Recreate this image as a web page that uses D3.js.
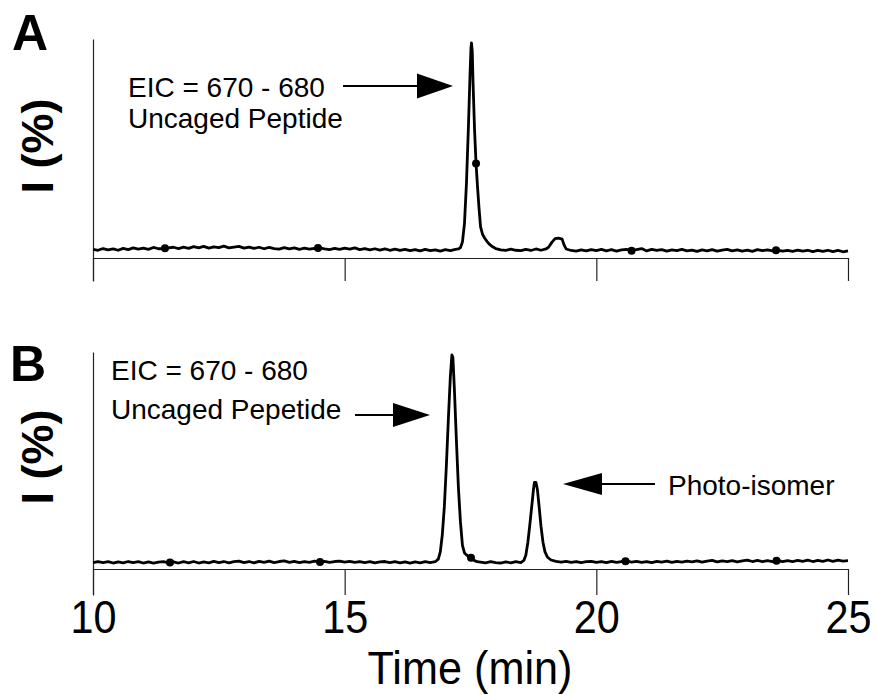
<!DOCTYPE html>
<html>
<head>
<meta charset="utf-8">
<script src="https://cdn.jsdelivr.net/npm/d3@7"></script>
<style>
  html, body { margin: 0; padding: 0; background: #fff; }
  svg { display: block; font-family: "Liberation Sans", Arial, sans-serif; }
</style>
</head>
<body>
<svg id="chart" width="877" height="695"></svg>
<script>
// ---------------- DATA ----------------
const xTicks = [10, 15, 20, 25];
const xLabel = "Time (min)";
const yLabel = "I (%)";
const panelLabels = ["A", "B"];

// Panel A: EIC 670-680, uncaged peptide
const timesA = [
  10.0,10.1,10.2,10.3,10.4,10.5,10.6,10.7,10.8,10.9,
  11.0,11.1,11.2,11.3,11.4,11.5,11.6,11.7,11.8,11.9,
  12.0,12.1,12.2,12.3,12.4,12.5,12.6,12.7,12.8,12.9,
  13.0,13.1,13.2,13.3,13.4,13.5,13.6,13.7,13.8,13.9,
  14.0,14.1,14.2,14.3,14.4,14.5,14.6,14.7,14.8,14.9,
  15.0,15.1,15.2,15.3,15.4,15.5,15.6,15.7,15.8,15.9,
  16.0,16.1,16.2,16.3,16.4,16.5,16.6,16.7,16.8,16.9,
  17.0,17.1,17.2,17.26,17.30,17.34,17.38,17.42,17.46,17.49,
  17.51,17.52,17.535,17.55,17.58,17.61,17.64,17.67,17.70,17.74,
  17.78,17.83,17.88,17.94,18.0,18.1,18.2,18.3,18.4,18.5,
  18.6,18.7,18.8,18.9,19.0,19.05,19.12,19.18,19.25,19.32,
  19.36,19.40,19.5,19.6,19.7,19.8,19.9,20.0,20.1,20.2,
  20.3,20.4,20.5,20.6,20.7,20.8,20.9,21.0,21.1,21.2,
  21.3,21.4,21.5,21.6,21.7,21.8,21.9,22.0,22.1,22.2,
  22.3,22.4,22.5,22.6,22.7,22.8,22.9,23.0,23.1,23.2,
  23.3,23.4,23.5,23.6,23.7,23.8,23.9,24.0,24.1,24.2,
  24.3,24.4,24.5,24.6,24.7,24.8,24.9,25.0
];
const intensityA = [
  4.0,3.6,4.4,3.8,4.2,3.6,4.5,3.9,4.7,4.1,
  4.6,4.0,4.9,4.3,4.4,4.7,5.0,4.4,5.1,4.5,
  5.3,4.7,5.4,4.6,5.2,4.8,5.5,4.7,5.1,5.4,
  4.6,5.1,4.5,5.0,4.3,4.9,4.4,4.1,4.8,4.2,
  4.7,4.0,4.6,4.1,4.5,4.7,4.2,3.9,4.5,4.0,
  4.6,4.1,4.7,3.9,4.4,3.8,4.3,3.7,4.2,3.6,
  4.1,3.5,4.0,3.4,3.9,3.3,4.0,3.4,3.8,3.2,
  3.9,3.4,4.0,4.2,4.8,7.5,16,35,62,85,
  98,100,96,82,60,44,33,23,14.5,11.0,
  9.3,7.6,6.3,5.2,4.4,3.8,3.5,4.1,3.6,3.4,
  4.0,3.5,4.2,3.6,4.2,5.0,7.4,9.0,9.2,8.8,
  6.0,4.2,3.5,3.2,3.8,3.3,3.9,3.4,4.0,3.3,
  3.9,3.2,3.8,4.0,3.4,3.9,4.4,3.3,4.0,3.5,
  3.9,3.2,3.8,3.4,4.0,3.3,3.7,3.1,3.8,3.3,
  3.9,3.2,3.7,4.0,3.3,3.8,3.2,3.7,3.1,3.9,
  3.4,3.8,3.3,3.7,3.2,3.6,3.1,3.7,3.2,3.6,
  3.0,3.5,3.1,3.6,3.0,3.5,2.9,3.3
];
const markerTimesA = [11.43, 14.47, 17.61, 20.7, 23.57];

// Panel B: EIC 670-680, uncaged peptide + photo-isomer
const timesB = [
  10.0,10.1,10.2,10.3,10.4,10.5,10.6,10.7,10.8,10.9,
  11.0,11.1,11.2,11.3,11.4,11.5,11.6,11.7,11.8,11.9,
  12.0,12.1,12.2,12.3,12.4,12.5,12.6,12.7,12.8,12.9,
  13.0,13.1,13.2,13.3,13.4,13.5,13.6,13.7,13.8,13.9,
  14.0,14.1,14.2,14.3,14.4,14.5,14.6,14.7,14.8,14.9,
  15.0,15.1,15.2,15.3,15.4,15.5,15.6,15.7,15.8,15.9,
  16.0,16.1,16.2,16.3,16.4,16.5,16.6,16.7,16.8,16.86,
  16.90,16.94,16.98,17.02,17.06,17.10,17.13,17.15,17.18,17.22,
  17.26,17.30,17.34,17.38,17.44,17.49,17.53,17.58,17.63,17.7,
  17.8,17.9,18.0,18.1,18.2,18.3,18.4,18.5,18.56,18.60,
  18.64,18.68,18.72,18.75,18.77,18.80,18.83,18.86,18.90,18.94,
  18.98,19.03,19.10,19.2,19.3,19.4,19.5,19.6,19.7,19.8,
  19.9,20.0,20.1,20.2,20.3,20.4,20.5,20.6,20.7,20.8,
  20.9,21.0,21.1,21.2,21.3,21.4,21.5,21.6,21.7,21.8,
  21.9,22.0,22.1,22.2,22.3,22.4,22.5,22.6,22.7,22.8,
  22.9,23.0,23.1,23.2,23.3,23.4,23.5,23.6,23.7,23.8,
  23.9,24.0,24.1,24.2,24.3,24.4,24.5,24.6,24.7,24.8,
  24.9,25.0
];
const intensityB = [
  3.0,3.5,3.0,3.4,2.8,3.3,2.9,3.5,3.0,3.4,
  2.8,3.3,2.7,3.2,3.4,2.9,3.3,2.8,3.4,2.9,
  3.5,2.8,3.3,2.9,3.6,3.0,3.5,2.9,3.4,3.7,
  3.0,3.5,2.9,3.6,3.1,3.7,3.0,3.5,3.8,3.1,
  3.6,3.0,3.5,3.1,3.7,3.2,3.6,3.1,3.5,3.7,
  3.2,3.6,3.1,3.5,3.0,3.4,2.9,3.3,3.5,3.0,
  3.4,2.9,3.3,2.8,3.3,2.9,3.4,3.0,3.4,4.6,
  8.0,16,29,48,70,90,100,99,84,60,
  38,22,11,7.5,6.2,5.4,5.0,3.9,3.4,3.2,
  2.9,3.4,3.0,2.8,3.3,2.9,3.4,3.0,4.0,6.5,
  12.5,21,30,37,40.5,40.5,37,30,20,12.5,
  8.0,5.5,4.2,3.6,3.2,3.6,3.1,3.5,3.0,3.4,
  3.6,3.1,3.5,3.0,3.6,3.1,3.5,3.7,3.2,3.6,
  3.1,3.5,3.0,3.6,3.2,3.7,3.1,3.6,3.2,3.7,
  3.3,3.8,3.2,3.7,4.0,3.3,3.8,3.4,3.9,3.3,
  3.8,4.1,3.5,4.0,3.4,3.9,3.5,4.0,3.4,3.9,
  3.5,4.0,3.6,4.1,3.5,4.0,3.6,4.2,3.6,4.1,
  3.7,3.9
];
const markerTimesB = [11.53, 14.51, 17.51, 20.58, 23.58];

// ---------------- DRAW ----------------
const svg = d3.select("#chart");
const FONT = "'Liberation Sans', Arial, sans-serif";

const x = d3.scaleLinear().domain([10, 25]).range([93, 848]);

const panels = [
  { label: panelLabels[0], times: timesA, vals: intensityA, markers: markerTimesA,
    y: d3.scaleLinear().domain([0, 100]).range([258, 43]),
    axisY: 258, tickLen: 23, yTop: 39, labelBase: 50, labelX: 12, yLabelCenter: 146, showTickLabels: false },
  { label: panelLabels[1], times: timesB, vals: intensityB, markers: markerTimesB,
    y: d3.scaleLinear().domain([0, 100]).range([569, 355]),
    axisY: 569, tickLen: 26, yTop: 352, labelBase: 381, labelX: 10, yLabelCenter: 457, showTickLabels: true }
];

function interp(times, vals, t) {
  const i = d3.bisectLeft(times, t);
  if (i <= 0) return vals[0];
  if (i >= times.length) return vals[vals.length - 1];
  const t0 = times[i - 1], t1 = times[i];
  const f = (t - t0) / (t1 - t0);
  return vals[i - 1] + f * (vals[i] - vals[i - 1]);
}

panels.forEach(p => {
  const g = svg.append("g");

  // y axis line
  const ys = d3.scaleLinear().domain([0, 1]).range([p.axisY + p.tickLen, p.yTop]);
  g.append("g")
    .attr("transform", "translate(93,0)")
    .call(d3.axisLeft(ys).tickValues([]).tickSizeOuter(0))
    .call(s => s.select(".domain").attr("stroke", "#222").attr("stroke-width", 1.2));

  // x axis
  const xa = g.append("g")
    .attr("transform", `translate(0,${p.axisY})`)
    .call(d3.axisBottom(x).tickValues(xTicks).tickSize(p.tickLen).tickSizeOuter(0).tickPadding(6));
  xa.select(".domain").attr("stroke", "#222").attr("stroke-width", 1.2);
  xa.selectAll(".tick line").attr("stroke", "#222").attr("stroke-width", 1.2);
  if (p.showTickLabels) {
    xa.selectAll(".tick text")
      .attr("font-family", FONT)
      .attr("font-size", 47)
      .attr("fill", "#000")
      .attr("dy", null)
      .attr("y", 64)
      .attr("transform", "scale(0.88,1)");
  } else {
    xa.selectAll(".tick text").remove();
  }

  // trace
  const data = p.times.map((t, i) => [t, p.vals[i]]);
  const line = d3.line().x(d => x(d[0])).y(d => p.y(d[1]));
  g.append("path")
    .datum(data)
    .attr("d", line)
    .attr("fill", "none")
    .attr("stroke", "#000")
    .attr("stroke-width", 2.8)
    .attr("stroke-linejoin", "round");

  // markers
  g.selectAll("circle.mk")
    .data(p.markers)
    .join("circle")
    .attr("class", "mk")
    .attr("cx", t => x(t))
    .attr("cy", t => p.y(interp(p.times, p.vals, t)))
    .attr("r", 4)
    .attr("fill", "#000");

  // panel label
  g.append("text")
    .attr("x", p.labelX).attr("y", p.labelBase)
    .attr("font-family", FONT).attr("font-weight", "bold").attr("font-size", 50)
    .text(p.label);

  // y label
  g.append("text")
    .attr("transform", `translate(53,${p.yLabelCenter}) rotate(-90)`)
    .attr("text-anchor", "middle")
    .attr("font-family", FONT).attr("font-weight", "bold").attr("font-size", 45)
    .text(yLabel);
});

// x label
svg.append("text")
  .attr("transform", "translate(470,684) scale(0.92,1)")
  .attr("text-anchor", "middle")
  .attr("font-family", FONT).attr("font-size", 47)
  .text(xLabel);

// annotations
function arrow(x1, xBase, xTip, yy, half) {
  svg.append("line")
    .attr("x1", x1).attr("x2", xBase).attr("y1", yy).attr("y2", yy)
    .attr("stroke", "#000").attr("stroke-width", 2);
  svg.append("path")
    .attr("d", `M${xBase},${yy - half}L${xTip},${yy}L${xBase},${yy + half}Z`)
    .attr("fill", "#000");
}
function label(xx, yy, txt) {
  svg.append("text").attr("x", xx).attr("y", yy)
    .attr("font-family", FONT).attr("font-size", 28).attr("fill", "#000")
    .text(txt);
}

label(128, 97, "EIC = 670 - 680");
label(128, 128, "Uncaged Peptide");
arrow(343, 417, 453, 86, 12.5);

label(111, 380, "EIC = 670 - 680");
label(111, 419, "Uncaged Pepetide");
arrow(355, 393, 430, 415, 12);

label(668, 495, "Photo-isomer");
arrow(655, 602, 563, 484, 11);
</script>
</body>
</html>
